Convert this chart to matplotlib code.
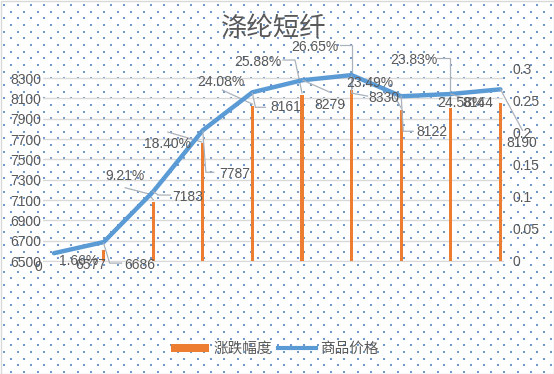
import matplotlib
matplotlib.use('Agg')
import matplotlib.pyplot as plt
import numpy as np
import matplotlib.transforms as mtransforms
from matplotlib.patches import Patch, Rectangle
from matplotlib.lines import Line2D

# ---------------- data ----------------
categories = ['2月20日', '2月27日', '3月6日', '3月13日', '3月20日',
              '3月27日', '4月3日', '4月10日', '4月17日', '4月24日']
price = [6577, 6686, 7183, 7787, 8161, 8279, 8330, 8122, 8144, 8190]
change = [0, 0.0166, 0.0921, 0.1840, 0.2408, 0.2588, 0.2665, 0.2349, 0.2383, 0.2458]
change_labels = [None, '1.66%', '9.21%', '18.40%', '24.08%', '25.88%',
                 '26.65%', '23.49%', '23.83%', '24.58%']
price_labels = [str(p) for p in price]
left_ticks = [6500, 6700, 6900, 7100, 7300, 7500, 7700, 7900, 8100, 8300]
right_ticks = [0, 0.05, 0.1, 0.15, 0.2, 0.25, 0.3]
right_ticklabels = ['0', '0.05', '0.1', '0.15', '0.2', '0.25', '0.3']
title = '涤纶短纤'
legend_labels = ['涨跌幅度', '商品价格']

# ---------------- style ----------------
W, H = 554, 374
TXT = '#595959'
ORANGE = '#ED7D31'
BLUE = '#5B9BD5'
LEAD = '#A9B1BA'
NUMFONT = ['Liberation Sans', 'Noto Sans CJK SC']
CJK = ['Noto Sans CJK SC', 'DejaVu Sans']
plt.rcParams['font.family'] = NUMFONT
FS = 10

fig = plt.figure(figsize=(W / 100, H / 100), dpi=100)
fig.patch.set_facecolor('white')

# dotted background pattern
bg = fig.add_axes([0, 0, 1, 1], zorder=-10)
bg.set_xlim(0, W)
bg.set_ylim(H, 0)
bg.axis('off')
dx_s, dy_s = 13.33, 6.67
xs, ys = [], []
for r, yy in enumerate(np.arange(5, H, dy_s)):
    off = 4.3 if r % 2 == 0 else 4.3 + dx_s / 2
    for xx in np.arange(off, W, dx_s):
        xs.append(xx)
        ys.append(yy)
bg.scatter(xs, ys, s=1.5, marker='s', color='#6F98CB', linewidths=0)
bg.add_patch(Rectangle((0.5, 0.5), W - 1, H - 1, fill=False, edgecolor='#D9D9D9', lw=1))

# main axes
left_px, right_px, top_px, bot_px = 43, 503, 68, 261
rect = [left_px / W, (H - bot_px) / H, (right_px - left_px) / W, (bot_px - top_px) / H]
ax = fig.add_axes(rect)           # price scale, left ticks, gridlines
axb = ax.twinx()                  # bars, right ticks
axl = ax.twinx()                  # line on price scale

x = np.arange(len(categories))
xlim = (-0.222, 9.052)
for a in (ax, axb, axl):
    a.set_xlim(*xlim)
    a.patch.set_visible(False)
    for s in a.spines.values():
        s.set_visible(False)

ax.set_ylim(6500, 8400)
axl.set_ylim(6500, 8400)
axb.set_ylim(0, 0.3)

ax.set_yticks(left_ticks)
ax.set_yticklabels([str(v) for v in left_ticks])
ax.tick_params(axis='y', length=0, pad=1, labelsize=FS, labelcolor=TXT)
ax.grid(axis='y', color='#D9D9D9', lw=1)
ax.set_axisbelow(True)

axb.set_yticks(right_ticks)
axb.set_yticklabels(right_ticklabels)
axb.tick_params(axis='y', length=0, pad=7, labelsize=FS, labelcolor=TXT)
axl.set_yticks([])

ax.spines['bottom'].set_visible(True)
ax.spines['bottom'].set_color('#D9D9D9')
ax.set_xticks(x)
ax.set_xticklabels(categories, rotation=45, ha='right', va='center',
                   rotation_mode='anchor', family=CJK)
ax.tick_params(axis='x', length=4, color='#D9D9D9', pad=14, labelsize=11, labelcolor=TXT)
shift = mtransforms.ScaledTranslation(4 / 100, 0, fig.dpi_scale_trans)
for lab in ax.get_xticklabels():
    lab.set_transform(lab.get_transform() + shift)
axb.set_xticks([])
axl.set_xticks([])

axb.bar(x, change, width=0.065, color=ORANGE, zorder=2)
axl.plot(x, price, color=BLUE, lw=3.2, solid_joinstyle='round', solid_capstyle='round')

# data labels with leader lines (offsets in pixels, y downward)
price_off = [(37, 12), (36.4, 23), (34, 5), (32, 44), (33, 15),
             (28, 25), (32, 23), (31, 36), (27, 9), (21, 54)]
price_lead = [None,
              [(0, 1), (6, 21), (18, 21)],
              [(0, 0), (5, 3.4), (17, 3.4)],
              [(0, 1), (3, 42), (11, 42)],
              [(0, 1), (3, 15), (13, 15)],
              [(1, 0), (28, 12)],
              [(0, 1), (0, 18), (16, 21)],
              [(0, 0), (2, 35), (12, 35)],
              [(0, 0), (12, 4)],
              [(0, 0), (22, 41)]]
chg_off = [None, (-24.6, 11), (-28, -26), (-35, 1.4), (-32, -24), (-44, -32.5),
           (-36.6, -42.6), (-31, -27), (-37, -48), (-40, 0)]
chg_lead = [None, None,
            [(-28, -14), (-5, -8), (0, -2)],
            [(-35, -10.6), (-1, -0.6)],
            [(-30, -16), (0, -2)],
            [(-19, -34.5), (-7, -34.5), (0, -1.5)],
            [(-11.6, -44.6), (0.4, -44.6), (0.4, -1.6)],
            [(-9, -17), (0, -2)],
            [(-14, -50), (-1, -50), (-1, -2)],
            None]


def leader(axis, xi, yv, pts):
    tr = mtransforms.Affine2D().scale(1, -1) + mtransforms.ScaledTranslation(xi, yv, axis.transData)
    px = [p[0] for p in pts]
    py = [p[1] for p in pts]
    axis.add_line(Line2D(px, py, transform=tr, color=LEAD, lw=0.9, clip_on=False, zorder=5))


for i in range(len(categories)):
    if price_lead[i]:
        leader(axl, x[i], price[i], price_lead[i])
    if chg_lead[i]:
        leader(axb, x[i], change[i], chg_lead[i])

for i in range(len(categories)):
    dxp, dyp = price_off[i]
    axl.annotate(price_labels[i], xy=(x[i], price[i]), xytext=(dxp, -dyp),
                 textcoords='offset pixels', ha='center', va='center',
                 fontsize=FS, color=TXT, zorder=6, annotation_clip=False)
    if change_labels[i]:
        dxc, dyc = chg_off[i]
        axl.annotate(change_labels[i], xy=(x[i], change[i]), xycoords=axb.transData,
                     xytext=(dxc, -dyc), textcoords='offset pixels',
                     ha='center', va='center',
                     fontsize=FS, color=TXT, zorder=6, annotation_clip=False)

fig.text(38 / W, 1 - 267 / H, '0', ha='center', va='center', fontsize=FS, color=TXT)

fig.text(274 / W, 1 - 29 / H, title, ha='center', va='center', fontsize=19,
         color=TXT, family=CJK)

handles = [Patch(facecolor=ORANGE, edgecolor='none'),
           Line2D([], [], color=BLUE, lw=3)]
fig.legend(handles, legend_labels, loc='center', bbox_to_anchor=(275 / W, 1 - 349 / H),
           ncol=2, frameon=False, prop={'family': CJK, 'size': 10.5},
           labelcolor=TXT, handlelength=2.6, handleheight=0.5, columnspacing=0.4,
           handletextpad=0.3)

fig.savefig('out.png', dpi=100, facecolor='white')
